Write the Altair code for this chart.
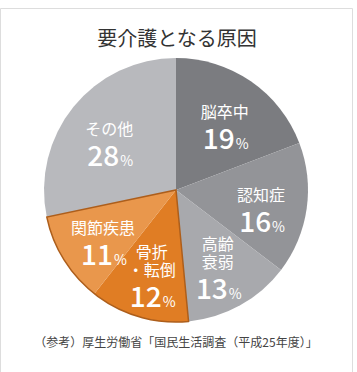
import altair as alt
import pandas as pd

causes = ["脳卒中", "認知症", "高齢衰弱", "骨折・転倒", "関節疾患", "その他"]
upper_lines = ["", "", "高齢", "骨折", "", ""]
lower_lines = ["脳卒中", "認知症", "衰弱", "・転倒", "関節疾患", "その他"]
values = [19, 16, 13, 12, 11, 28]
colors = ["#7b7c80", "#939498", "#a8a9ad", "#e07d24", "#e9974c", "#b8b9bd"]
highlight = ["骨折・転倒", "関節疾患"]
title_text = "要介護となる原因"
source_text = "（参考）厚生労働省「国民生活調査（平成25年度）」"

df = pd.DataFrame({
    "cause": causes,
    "l1": upper_lines,
    "l2": lower_lines,
    "value": values,
    "num": [str(v) for v in values],
    "pct": ["%"] * len(values),
    "idx": list(range(len(causes))),
})

FONT = "Noto Sans CJK JP"
R = 132
LR = 86
total = sum(values)
tscale = alt.Scale(domain=[0, total])

base = alt.Chart(df).transform_window(
    cum="sum(value)", sort=[alt.SortField("idx")], frame=[None, 0]
).transform_calculate(
    start="datum.cum - datum.value",
    mid="datum.cum - datum.value / 2",
    multi="datum.l1 != ''",
)

color = alt.Color("cause:N", scale=alt.Scale(domain=causes, range=colors), legend=None)

pie = base.mark_arc(outerRadius=R).encode(
    theta=alt.Theta("start:Q", scale=tscale), theta2="cum:Q", color=color)

outline = base.transform_filter(
    alt.FieldOneOfPredicate(field="cause", oneOf=highlight)
).transform_aggregate(
    s="min(start)", e="max(cum)"
).mark_arc(outerRadius=R, fillOpacity=0, stroke="#ad5e1b", strokeWidth=1.5).encode(
    theta=alt.Theta("s:Q", scale=tscale), theta2="e:Q")

th = alt.Theta("mid:Q", scale=tscale)


def label_layers(data, shift):
    l2 = data.mark_text(radius=LR, baseline="bottom", align="center", dy=-1 + shift, fontSize=16,
                        font=FONT, color="white").encode(theta=th, text="l2:N")
    l1 = data.mark_text(radius=LR, baseline="bottom", align="center", dy=-19 + shift, fontSize=16,
                        font=FONT, color="white").encode(theta=th, text="l1:N")
    num = data.mark_text(radius=LR, baseline="alphabetic", align="right", dx=10, dy=27 + shift,
                         fontSize=28, font=FONT, fontWeight=500, color="white").encode(theta=th, text="num:N")
    pct = data.mark_text(radius=LR, baseline="alphabetic", align="left", dx=11, dy=27 + shift,
                         fontSize=14, font=FONT, color="white").encode(theta=th, text="pct:N")
    return [l2, l1, num, pct]


single = base.transform_filter("!datum.multi")
multi = base.transform_filter("datum.multi")

ann = pd.DataFrame({"t": [title_text], "s": [source_text]})
title = alt.Chart(ann).mark_text(fontSize=20, font=FONT, color="#333333", baseline="middle").encode(
    text="t:N", x=alt.value(177), y=alt.value(32))
source = alt.Chart(ann).mark_text(fontSize=12, font=FONT, color="#444444", baseline="middle").encode(
    text="s:N", x=alt.value(176), y=alt.value(335))

chart = alt.layer(
    pie, outline, *label_layers(single, 3), *label_layers(multi, 7), title, source
).properties(
    width=352, height=364,
    autosize=alt.AutoSizeParams(type="none"),
    padding={"left": 0, "top": 8, "right": 5, "bottom": 0},
).configure_view(stroke=None).configure(background="white")

chart.save("out.html", embed_options={"renderer": "svg", "actions": False})
